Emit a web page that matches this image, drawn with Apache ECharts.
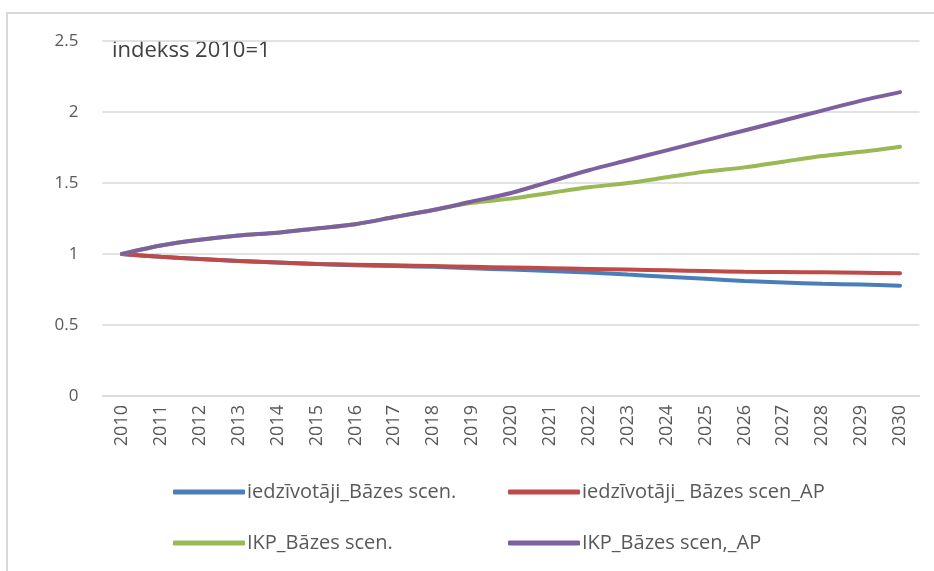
<!DOCTYPE html>
<html>
<head>
<meta charset="utf-8">
<script src="https://cdn.jsdelivr.net/npm/echarts@6/dist/echarts.min.js"></script>
<style>
html,body{margin:0;padding:0;background:#fff;}
#frame{position:absolute;left:6px;top:12px;width:928px;height:559px;border-top:2px solid #d9d9d9;border-left:2px solid #d9d9d9;box-sizing:border-box;}
#chart{position:absolute;left:0;top:0;width:934px;height:571px;}
</style>
</head>
<body>
<div id="frame"></div>
<div id="chart"></div>
<script>
const years = ['2010','2011','2012','2013','2014','2015','2016','2017','2018','2019','2020','2021','2022','2023','2024','2025','2026','2027','2028','2029','2030'];
const yTicks = [0, 0.5, 1, 1.5, 2, 2.5];
const seriesNames = ['iedzīvotāji_Bāzes scen.', 'iedzīvotāji_ Bāzes scen_AP', 'IKP_Bāzes scen.', 'IKP_Bāzes scen,_AP'];
const popBase = [1.0, 0.98, 0.965, 0.95, 0.94, 0.93, 0.92, 0.915, 0.91, 0.90, 0.89, 0.88, 0.87, 0.855, 0.84, 0.825, 0.81, 0.80, 0.79, 0.785, 0.777];
const popAP   = [1.0, 0.98, 0.965, 0.95, 0.94, 0.93, 0.925, 0.92, 0.915, 0.91, 0.905, 0.90, 0.895, 0.89, 0.885, 0.88, 0.875, 0.873, 0.871, 0.868, 0.865];
const gdpBase = [1.0, 1.06, 1.10, 1.13, 1.15, 1.18, 1.21, 1.26, 1.31, 1.36, 1.39, 1.43, 1.47, 1.50, 1.54, 1.58, 1.61, 1.65, 1.69, 1.72, 1.756];
const gdpAP   = [1.0, 1.06, 1.10, 1.13, 1.15, 1.18, 1.21, 1.26, 1.31, 1.37, 1.43, 1.51, 1.59, 1.66, 1.73, 1.80, 1.87, 1.94, 2.01, 2.08, 2.14];
const colors = ['#4a7ebb', '#be4b48', '#98b954', '#7d60a0'];
const dataSets = [popBase, popAP, gdpBase, gdpAP];

const FONT = '"Open Sans", "Noto Sans", sans-serif';
const chart = echarts.init(document.getElementById('chart'), null, {renderer:'canvas'});

const legendPos = [
  {left: 168, top: 477},
  {left: 503, top: 477},
  {left: 168, top: 528},
  {left: 503, top: 528}
];

const option = {
  animation: false,
  color: colors,
  grid: {left: 102.5, right: 14.5, top: 41, bottom: 175, containLabel: false},
  xAxis: {
    type: 'category',
    data: years,
    boundaryGap: true,
    axisLine: {show: true, lineStyle: {color: '#d9d9d9', width: 1.5}},
    axisTick: {show: false},
    axisLabel: {rotate: 90, color: '#595959', fontSize: 18, fontFamily: FONT, margin: 9, interval: 0}
  },
  yAxis: {
    type: 'value',
    min: 0, max: 2.5, interval: 0.5,
    axisLine: {show: false},
    axisTick: {show: false},
    splitLine: {lineStyle: {color: '#d9d9d9', width: 1.5}},
    axisLabel: {color: '#595959', fontSize: 17, fontFamily: FONT, margin: 24,
      formatter: v => yTicks.includes(v) ? String(v) : ''}
  },
  legend: legendPos.map((p, i) => ({
    data: [seriesNames[i]],
    left: p.left, top: p.top,
    icon: 'roundRect',
    itemWidth: 72, itemHeight: 5, itemGap: 2,
    textStyle: {color: '#595959', fontSize: 20, fontFamily: FONT, padding: [0,0,0,-3]}
  })),
  graphic: [{
    type: 'text', left: 112, top: 40,
    style: {text: 'indekss 2010=1', fill: '#404040', fontSize: 22, fontFamily: FONT}
  }],
  series: dataSets.map((d, i) => ({
    name: seriesNames[i],
    type: 'line',
    data: d,
    smooth: 0.3,
    showSymbol: false,
    lineStyle: {width: 4, color: colors[i], cap: 'round'},
    z: 2 + i
  }))
};
chart.setOption(option);
</script>
</body>
</html>
